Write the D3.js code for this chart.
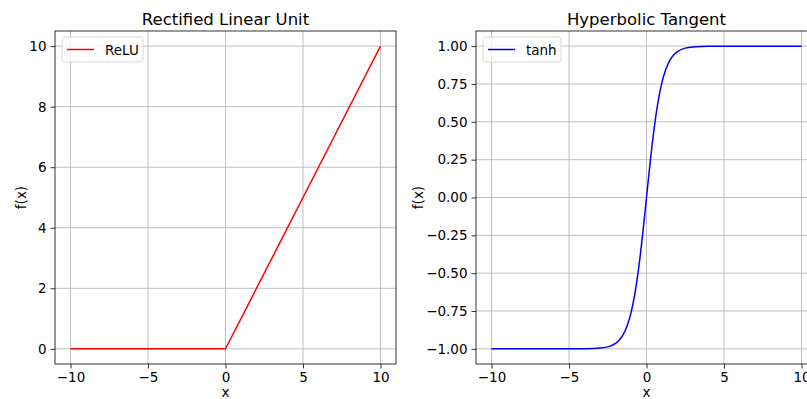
<!DOCTYPE html>
<html><head><meta charset="utf-8">
<script src="https://cdn.jsdelivr.net/npm/d3@7"></script>
<style>body{margin:0;background:#fff}svg{display:block;font-family:"DejaVu Sans",sans-serif}</style>
</head><body>
<script>
const xTicks = [-10, -5, 0, 5, 10];
const reluX = [-10, -5, 0, 5, 10];
const reluY = [0, 0, 0, 5, 10];
const reluTicksY = [0, 2, 4, 6, 8, 10];
const tanhX = [-10, -6, -4, -3, -2.5, -2, -1.75, -1.5, -1.25, -1, -0.75, -0.5, -0.25, 0, 0.25, 0.5, 0.75, 1, 1.25, 1.5, 1.75, 2, 2.5, 3, 4, 6, 10];
const tanhY = [-1, -1, -0.999, -0.995, -0.987, -0.964, -0.941, -0.905, -0.848, -0.762, -0.635, -0.462, -0.245, 0, 0.245, 0.462, 0.635, 0.762, 0.848, 0.905, 0.941, 0.964, 0.987, 0.995, 0.999, 1, 1];
const tanhTicksY = [-1.00, -0.75, -0.50, -0.25, 0.00, 0.25, 0.50, 0.75, 1.00];

const W = 807, H = 399;
const svg = d3.select("body").append("svg").attr("width", W).attr("height", H);

function panel(opts) {
  const {left, top, width, height, xDom, yDom, yTicks, yFmt, xs, ys, color, title, label} = opts;
  const g = svg.append("g");
  const x = d3.scaleLinear().domain(xDom).range([left, left + width]);
  const y = d3.scaleLinear().domain(yDom).range([top + height, top]);
  // grid
  g.selectAll(".gx").data(xTicks).enter().append("line")
    .attr("x1", d => x(d)).attr("x2", d => x(d)).attr("y1", top).attr("y2", top + height)
    .attr("stroke", "#b0b0b0").attr("stroke-width", 0.8);
  g.selectAll(".gy").data(yTicks).enter().append("line")
    .attr("y1", d => y(d)).attr("y2", d => y(d)).attr("x1", left).attr("x2", left + width)
    .attr("stroke", "#b0b0b0").attr("stroke-width", 0.8);
  // line
  const pts = xs.map((v, i) => [v, ys[i]]);
  g.append("path").datum(pts)
    .attr("d", d3.line().x(d => x(d[0])).y(d => y(d[1])).curve(color === "red" ? d3.curveLinear : d3.curveMonotoneX))
    .attr("fill", "none").attr("stroke", color).attr("stroke-width", 1.5);
  // axes
  const ax = g.append("g").attr("transform", `translate(0,${top + height})`)
    .call(d3.axisBottom(x).tickValues(xTicks).tickSize(4.5).tickPadding(4).tickFormat(d => d3.format("")(d).replace("-", "\u2212")));
  const ay = g.append("g").attr("transform", `translate(${left},0)`)
    .call(d3.axisLeft(y).tickValues(yTicks).tickSize(4.5).tickPadding(4).tickFormat(d => yFmt(d).replace("-", "\u2212")));
  [ax, ay].forEach(a => {
    a.select(".domain").remove();
    a.selectAll("line").attr("stroke", "#000").attr("stroke-width", 0.8);
    a.selectAll("text").attr("font-size", 13.5).attr("fill", "#000").attr("font-family", "DejaVu Sans");
  });
  // spines
  g.append("rect").attr("x", left).attr("y", top).attr("width", width).attr("height", height)
    .attr("fill", "none").attr("stroke", "#000").attr("stroke-width", 0.8);
  // title
  g.append("text").attr("x", left + width / 2).attr("y", top - 6).attr("text-anchor", "middle")
    .attr("font-size", 16.5).attr("fill", "#000").text(title);
  // labels
  g.append("text").attr("x", left + width / 2).attr("y", top + height + 33).attr("text-anchor", "middle")
    .attr("font-size", 13.5).text("x");
  g.append("text").attr("transform", `translate(${opts.ylabX},${top + height / 2}) rotate(-90)`)
    .attr("text-anchor", "middle").attr("font-size", 13.5).text("f(x)");
  // legend
  const lg = g.append("g").attr("transform", `translate(${left + 7},${top + 6})`);
  lg.append("rect").attr("width", opts.legW).attr("height", 25).attr("rx", 3)
    .attr("fill", "#fff").attr("fill-opacity", 0.8).attr("stroke", "#d0d0d0").attr("stroke-width", 0.8);
  lg.append("line").attr("x1", 5).attr("x2", 32).attr("y1", 12.5).attr("y2", 12.5)
    .attr("stroke", color).attr("stroke-width", 1.5);
  lg.append("text").attr("x", 43).attr("y", 17.5).attr("font-size", 13.5).text(label);
}

panel({left: 55, top: 31, width: 341, height: 333, xDom: [-11, 11], yDom: [-0.5, 10.5],
  yTicks: reluTicksY, yFmt: d3.format("d"), xs: reluX, ys: reluY, color: "red",
  title: "Rectified Linear Unit", label: "ReLU", ylabX: 26, legW: 81});
panel({left: 476, top: 31, width: 341, height: 333, xDom: [-11, 11], yDom: [-1.1, 1.1],
  yTicks: tanhTicksY, yFmt: d3.format(".2f"), xs: tanhX, ys: tanhY, color: "blue",
  title: "Hyperbolic Tangent", label: "tanh", ylabX: 423, legW: 78});
</script>
</body></html>
